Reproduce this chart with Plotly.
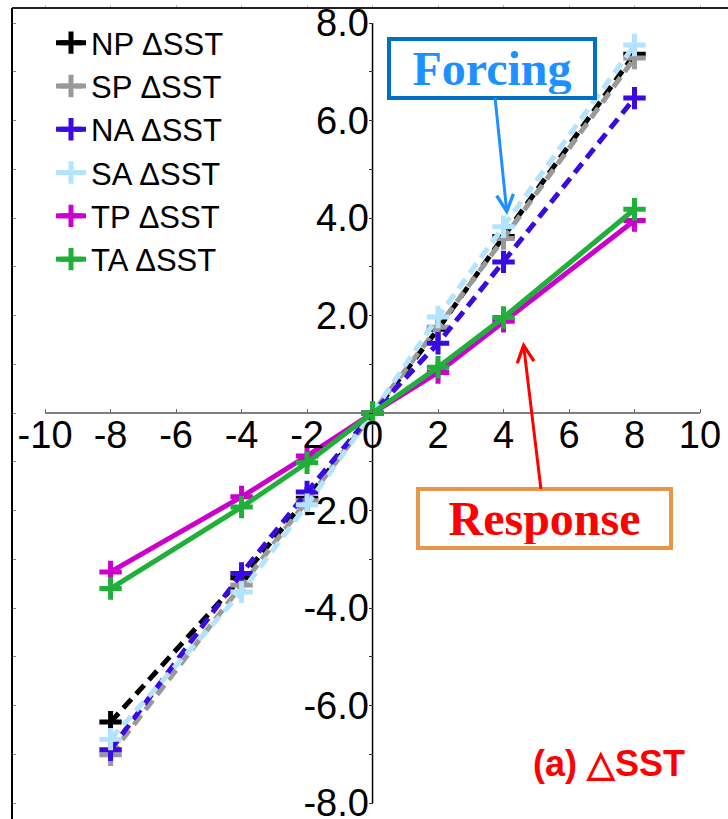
import plotly.graph_objects as go

# Imposed SST anomaly (forcing) on the x axis
x_forcing = [-8, -4, -2, 0, 2, 4, 8]

# Area-mean SST change for each basin
np_sst = [-6.34, -3.38, -1.75, 0, 1.72, 3.62, 7.36]
sp_sst = [-7.01, -3.53, -1.80, 0, 1.76, 3.58, 7.28]
na_sst = [-6.91, -3.29, -1.62, 0, 1.43, 3.10, 6.46]
sa_sst = [-6.69, -3.67, -1.88, 0, 1.97, 3.82, 7.55]
tp_sst = [-3.26, -1.72, -0.88, 0, 0.83, 1.88, 3.95]
ta_sst = [-3.60, -1.93, -1.02, 0, 0.94, 1.96, 4.18]

series_names = ["NP ΔSST", "SP ΔSST", "NA ΔSST", "SA ΔSST", "TP ΔSST", "TA ΔSST"]
series_values = [np_sst, sp_sst, na_sst, sa_sst, tp_sst, ta_sst]
series_colors = ["#000000", "#999999", "#3A0BE0", "#B3E3FF", "#CC00CC", "#20B03A"]
series_dash = ["12px,7px", "12px,7px", "12px,7px", "12px,7px", "solid", "solid"]

x_tick_vals = [-10, -8, -6, -4, -2, 0, 2, 4, 6, 8, 10]
x_tick_text = ["-10", "-8", "-6", "-4", "-2", "0", "2", "4", "6", "8", "10"]
y_tick_vals = list(range(-8, 9))
y_tick_text = ["-8.0", "", "-6.0", "", "-4.0", "", "-2.0", "", "",
               "", "2.0", "", "4.0", "", "6.0", "", "8.0"]

# Plot window (axes cross at the origin inside a wider frame)
x_range = [-11.01, 10.855]
y_range = [-8.328, 8.308]
x_origin_frac = (0 - x_range[0]) / (x_range[1] - x_range[0])
y_origin_frac = (0 - y_range[0]) / (y_range[1] - y_range[0])

# plot-area size in pixels, used to place the legend
area_left, area_top, area_w, area_h = 12, 8, 716, 811

label_font = dict(family="Liberation Sans, Arial, sans-serif", size=38, color="black")

fig = go.Figure()

for name, vals, col, dash in zip(series_names, series_values, series_colors, series_dash):
    fig.add_trace(go.Scatter(
        x=x_forcing, y=vals, name=name, mode="lines+markers",
        line=dict(color=col, width=5, dash=dash),
        marker=dict(symbol="cross-thin-open", size=16,
                    line=dict(color=col, width=5)),
    ))

# empty trace that carries the frame axes
fig.add_trace(go.Scatter(x=[None], y=[None], xaxis="x2", yaxis="y2",
                         showlegend=False, hoverinfo="skip"))

# axis lines through the origin
fig.add_shape(type="line", x0=-10, x1=10, y0=0, y1=0, xref="x", yref="y",
              line=dict(color="#555555", width=1.5), layer="below")
fig.add_shape(type="line", x0=0, x1=0, y0=-8, y1=8, xref="x", yref="y",
              line=dict(color="#000000", width=1.5), layer="below")

fig.add_annotation(
    x=4.11, y=4.06, ax=3.65, ay=7.07, xref="x", yref="y", axref="x", ayref="y",
    text="<b>Forcing</b>", showarrow=True, arrowhead=5, arrowsize=1.1,
    arrowwidth=3, arrowcolor="#1E90FF",
    font=dict(family="Liberation Serif, Times New Roman, serif", size=48, color="#1E90FF"),
    bordercolor="#0070C0", borderwidth=4, borderpad=2, bgcolor="white",
    width=198, height=51,
)
fig.add_annotation(
    x=4.6, y=1.46, ax=5.25, ay=-2.16, xref="x", yref="y", axref="x", ayref="y",
    text="<b>Response</b>", showarrow=True, arrowhead=5, arrowsize=1.1,
    arrowwidth=3, arrowcolor="#FF0000",
    font=dict(family="Liberation Serif, Times New Roman, serif", size=48, color="#FF0000"),
    bordercolor="#E8974A", borderwidth=4, borderpad=2, bgcolor="white",
    width=245, height=51,
)
fig.add_annotation(
    x=7.22, y=-7.18, xref="x", yref="y", showarrow=False,
    text="<b>(a) △SST</b>",
    font=dict(family="Liberation Sans, Arial, sans-serif", size=36, color="#FF0000"),
)

fig.update_layout(
    width=728, height=819,
    margin=dict(l=area_left, r=0, t=area_top, b=0, pad=0, autoexpand=False),
    paper_bgcolor="white", plot_bgcolor="white",
    showlegend=True,
    legend=dict(
        xref="paper", yref="paper",
        x=(51 - area_left) / area_w, y=1 - (16 - area_top) / area_h,
        xanchor="left", yanchor="top", bgcolor="rgba(0,0,0,0)",
        font=dict(family="Liberation Sans, Arial, sans-serif", size=31, color="black"),
        tracegroupgap=0, itemwidth=30,
    ),
    xaxis=dict(
        range=x_range, anchor="free", position=y_origin_frac, side="bottom",
        showline=False, zeroline=False, showgrid=False,
        ticks="inside", ticklen=4, tickwidth=1, tickcolor="#666666",
        tickmode="array", tickvals=x_tick_vals, ticktext=x_tick_text,
        tickfont=label_font, tickangle=0, ticklabelstandoff=-4,
        ticklabeloverflow="allow",
    ),
    yaxis=dict(
        range=y_range, anchor="free", position=x_origin_frac, side="left",
        showline=False, zeroline=False, showgrid=False,
        ticks="outside", ticklen=4, tickwidth=1, tickcolor="#333333",
        tickmode="array", tickvals=y_tick_vals, ticktext=y_tick_text,
        tickfont=label_font, ticklabelstandoff=-8,
        ticklabeloverflow="allow",
    ),
    xaxis2=dict(
        range=x_range, overlaying="x", anchor="free", position=1, side="top",
        showline=True, linecolor="#222222", linewidth=2,
        zeroline=False, showgrid=False, showticklabels=False,
        ticks="outside", ticklen=2, tickcolor="#BBBBBB",
        tickmode="array", tickvals=x_tick_vals,
    ),
    yaxis2=dict(
        range=y_range, overlaying="y", anchor="free", position=0, side="left",
        showline=True, linecolor="#000000", linewidth=2,
        zeroline=False, showgrid=False, showticklabels=False,
        ticks="inside", ticklen=3, tickcolor="#888888",
        tickmode="array", tickvals=y_tick_vals,
    ),
)

fig.write_html("out.html")
